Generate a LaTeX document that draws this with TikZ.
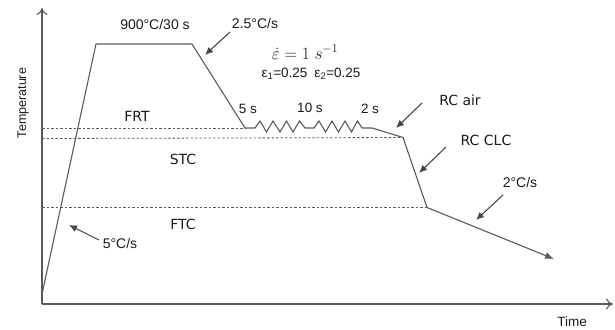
\documentclass[tikz,border=0pt]{standalone}
\usepackage{fontspec}
\setmainfont{Liberation Sans}
\newfontfamily\labelfont{DejaVu Sans}
\usetikzlibrary{arrows.meta}
\definecolor{linegray}{HTML}{5A5A5A}
\definecolor{txt}{HTML}{1A1A1A}
\begin{document}
\begin{tikzpicture}[x=1pt,y=-1pt,
  curve/.style={draw=linegray,line width=1.1pt,line join=miter},
  axis/.style={draw=linegray,line width=1.1pt,-{To[length=7pt,width=11pt]}},
  level/.style={draw=linegray,line width=0.8pt,dash pattern=on 2.5pt off 2pt},
  note/.style={draw=linegray!80!black,line width=1.1pt,-{Latex[length=8pt,width=7pt]}},
  arial/.style={font=\fontsize{13.5}{14}\selectfont,text=txt,inner sep=0pt},
  zone/.style={font=\labelfont\fontsize{14}{15}\selectfont,text=txt,inner sep=0pt}]
\useasboundingbox (0,0) rectangle (615,329);

% axes
\coordinate (origin) at (42,304);
\coordinate (ytop) at (42,8);
\coordinate (xend) at (613,304);
\draw[axis] (origin) -- (ytop);
\draw[axis] (origin) -- (xend);
\node[arial,font=\fontsize{12.5}{13}\selectfont,rotate=90] (ylab) at (23,103) {Temperature};
\node[arial,font=\fontsize{13.5}{14}\selectfont] (xlab) at (572,322) {Time};

% temperature levels
\coordinate (frtL) at (42,128);
\coordinate (stcL) at (42,138.5);
\coordinate (ftcL) at (42,207.5);

% thermal cycle
\coordinate (start) at (42,294);
\coordinate (heatTop) at (96,44);
\coordinate (soakEnd) at (192,44);
\coordinate (defStart) at (245,128);
\coordinate (hold) at (372,128);
\coordinate (airEnd) at (403,137.5);
\coordinate (clcEnd) at (427,207.5);
\coordinate (finish) at (554,259);

\draw[level] (frtL) -- (defStart);
\draw[level] (stcL) -- (airEnd);
\draw[level] (ftcL) -- (clcEnd);

\draw[curve] (start) -- (heatTop) -- (soakEnd) -- (defStart) -- (255,128)
  -- (260,121) -- (266.5,132) -- (273,121) -- (280,132) -- (286.5,121)
  -- (293,132) -- (299.5,121) -- (305,128) -- (314,128)
  -- (319,121) -- (325.5,132) -- (332,121) -- (338.5,132) -- (345,121)
  -- (351.5,132) -- (357.5,121) -- (362,128) -- (hold) -- (airEnd) -- (clcEnd);
\draw[curve,-{Latex[length=9pt,width=7pt]}] (clcEnd) -- (finish);

% labels of the cycle
\node[arial,font=\fontsize{14}{15}\selectfont] (soak) at (155,24) {900°C/30 s};
\node[arial,font=\fontsize{14}{15}\selectfont] (rate1) at (255,23) {2.5°C/s};
\node[text=txt,inner sep=0pt,font=\fontsize{17}{18}\selectfont] (srate) at (305,52) {$\dot{\varepsilon} = 1\;s^{-1}$};
\node[arial] (strain) at (311,74) {ε\textsubscript{1}=0.25\hspace{7pt}ε\textsubscript{2}=0.25};
\node[arial] (t1) at (248,109) {5 s};
\node[arial] (t2) at (310,108) {10 s};
\node[arial] (t3) at (370,109) {2 s};
\node[zone] (frt) at (137,116) {FRT};
\node[zone] (stc) at (183,159) {STC};
\node[zone] (ftc) at (183,224) {FTC};
\node[zone] (rcair) at (460,100) {RC air};
\node[zone] (rcclc) at (486,140) {RC CLC};
\node[arial,font=\fontsize{14}{15}\selectfont] (rate2) at (520,182) {2°C/s};
\node[arial,font=\fontsize{14}{15}\selectfont] (rate3) at (120,243) {5°C/s};

% pointers
\coordinate (p1a) at (230,32);  \coordinate (p1b) at (205,55);
\coordinate (p2a) at (422,103); \coordinate (p2b) at (396,128);
\coordinate (p3a) at (446,147); \coordinate (p3b) at (419,173);
\coordinate (p4a) at (503,195); \coordinate (p4b) at (476,220);
\coordinate (p5a) at (99,240);  \coordinate (p5b) at (69,225);
\draw[note] (p1a) -- (p1b);
\draw[note] (p2a) -- (p2b);
\draw[note] (p3a) -- (p3b);
\draw[note] (p4a) -- (p4b);
\draw[note] (p5a) -- (p5b);
\end{tikzpicture}
\end{document}
